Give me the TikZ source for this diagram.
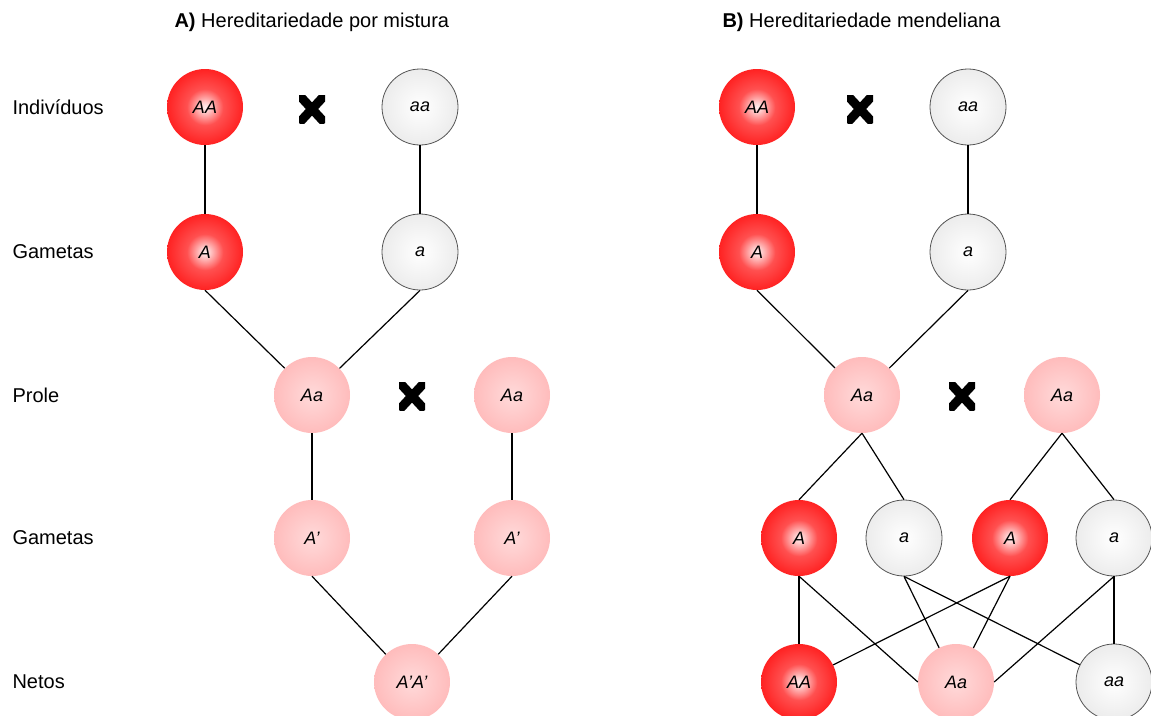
\documentclass[tikz,border=0pt]{standalone}
\usepackage{fontspec}
\setmainfont{Liberation Sans}

% ball colours
\definecolor{redcore}{RGB}{255,238,238}
\definecolor{redmid}{RGB}{255,80,80}
\definecolor{redrim}{RGB}{255,34,34}
\definecolor{pinkcore}{RGB}{255,218,218}
\definecolor{pinkrim}{RGB}{255,188,188}
\definecolor{greyrim}{RGB}{236,236,236}
\definecolor{greyline}{RGB}{85,85,85}

\pgfdeclareradialshading{redball}{\pgfpointorigin}{color(0bp)=(redcore); color(3bp)=(redcore!80!redmid); color(12bp)=(redmid); color(25bp)=(redrim); color(50bp)=(redrim)}
\pgfdeclareradialshading{pinkball}{\pgfpointorigin}{color(0bp)=(pinkcore); color(25bp)=(pinkrim); color(50bp)=(pinkrim)}
\pgfdeclareradialshading{greyball}{\pgfpointorigin}{color(0bp)=(white); color(25bp)=(greyrim); color(50bp)=(greyrim)}

\begin{document}
\begin{tikzpicture}[x=1pt, y=-1pt, line join=round]

  \def\D{76pt}

  % Styles
  \tikzset{
    ball/.style={circle, minimum size=\D, inner sep=0pt, font=\fontsize{18}{21}\selectfont\itshape},
    dom/.style={ball, shading=redball},
    rec/.style={ball, shading=greyball, draw=greyline, line width=0.8pt},
    het/.style={ball, shading=pinkball},
    link/.style={line width=1.2pt, black},
    rowlabel/.style={anchor=west, font=\fontsize{20}{24}\selectfont},
    title/.style={anchor=west, font=\fontsize{20}{24}\selectfont},
    crossmark/.style={minimum width=26pt, minimum height=28pt, inner sep=0pt,
      path picture={
        \draw[line width=9pt] (path picture bounding box.north west) -- (path picture bounding box.south east);
        \draw[line width=9pt] (path picture bounding box.north east) -- (path picture bounding box.south west);
      }},
  }

  \useasboundingbox (0,0) rectangle (1151,715);
  \clip (0,0) rectangle (1151,715);

  % Titles
  \node[title] (titA) at (171,22) {\textbf{A)} Hereditariedade por mistura};
  \node[title] (titB) at (719,22) {\textbf{B)} Hereditariedade mendeliana};

  % Row labels
  \node[rowlabel] (lab1) at (9,107) {Indivíduos};
  \node[rowlabel] (lab2) at (9,252) {Gametas};
  \node[rowlabel] (lab3) at (9,395) {Prole};
  \node[rowlabel] (lab4) at (9,538) {Gametas};
  \node[rowlabel] (lab5) at (9,682) {Netos};

  % A) blending
  \node[dom] (mixAA) at (205,107) {AA};
  \node[crossmark] (mixX1) at (312,109) {};
  \node[rec] (mixaa) at (420,107) {aa};
  \node[dom] (mixA) at (205,252) {A};
  \node[rec] (mixa) at (420,252) {a};
  \node[het] (mixAa) at (312,395) {Aa};
  \node[crossmark] (mixX2) at (412,396) {};
  \node[het] (mixAb) at (512,395) {Aa};
  \node[het] (mixAp) at (312,538) {A'};
  \node[het] (mixAq) at (512,538) {A'};
  \node[het] (mixnet) at (412,682) {A'A'};

  \draw[link] (mixAA) -- (mixA);
  \draw[link] (mixaa) -- (mixa);
  \draw[link] (mixA.south) -- (mixAa);
  \draw[link] (mixa.south) -- (mixAa);
  \draw[link] (mixAa) -- (mixAp);
  \draw[link] (mixAb) -- (mixAq);
  \draw[link] (mixAp.south) -- (mixnet);
  \draw[link] (mixAq.south) -- (mixnet);

  % B) Mendelian
  \node[dom] (menAA) at (757,107) {AA};
  \node[crossmark] (menX1) at (860,109) {};
  \node[rec] (menaa) at (968,107) {aa};
  \node[dom] (menA) at (757,252) {A};
  \node[rec] (mena) at (968,252) {a};
  \node[het] (menAa) at (862,395) {Aa};
  \node[crossmark] (menX2) at (962,396) {};
  \node[het] (menAb) at (1062,395) {Aa};
  \node[dom] (menA1) at (799,538) {A};
  \node[rec] (mena1) at (904,538) {a};
  \node[dom] (menA2) at (1010,538) {A};
  \node[rec] (mena2) at (1114,538) {a};
  \node[dom] (netAA) at (799,682) {AA};
  \node[het] (netAa) at (956,682) {Aa};
  \node[rec] (netaa) at (1114,682) {aa};

  \draw[link] (menAA) -- (menA);
  \draw[link] (menaa) -- (mena);
  \draw[link] (menA.south) -- (menAa);
  \draw[link] (mena.south) -- (menAa);
  \draw[link] (menAa.south) -- (menA1.north);
  \draw[link] (menAa.south) -- (mena1.north);
  \draw[link] (menAb.south) -- (menA2.north);
  \draw[link] (menAb.south) -- (mena2.north);

  % gametes to grandchildren
  \draw[link] (menA1) -- (netAA);
  \draw[link] (menA1.south) -- (netAa.west);
  \draw[link] (mena1.south) -- (netAa);
  \draw[link] (mena1.south) -- (netaa);
  \draw[link] (menA2.south) -- (netAA);
  \draw[link] (menA2.south) -- (netAa);
  \draw[link] (mena2.south) -- (netAa.east);
  \draw[link] (mena2) -- (netaa);

\end{tikzpicture}
\end{document}
